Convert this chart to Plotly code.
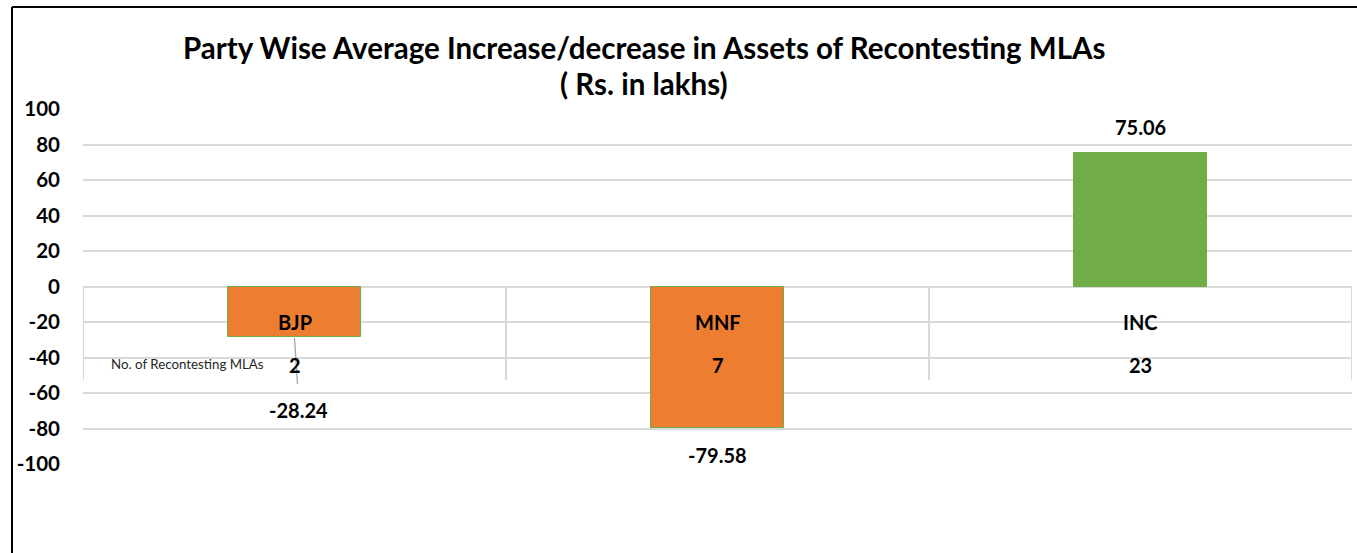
import plotly.graph_objects as go

parties = ["BJP", "MNF", "INC"]
asset_change = [-28.24, -79.58, 75.06]
recontesting = [2, 7, 23]
bar_colors = ["#ED7D31", "#ED7D31", "#70AD47"]
y_ticks = [100, 80, 60, 40, 20, 0, -20, -40, -60, -80, -100]
title_lines = ["Party Wise Average Increase/decrease in Assets of Recontesting MLAs", "( Rs. in lakhs)"]
row_label = "No. of Recontesting MLAs"

FONT = "Lato"
W, H = 1357, 553
L, R, T, B = 83, 5, 109, 89
pw = W - L - R
ph = H - T - B

def px_to_paper_x(px):
    return (px - L) / pw

def px_to_paper_y(py):
    return (H - B - py) / ph

fig = go.Figure()
fig.add_trace(go.Bar(
    x=list(range(len(parties))), y=asset_change,
    width=0.315,
    marker=dict(color=bar_colors, line=dict(color="#70AD47", width=1)),
    hoverinfo="skip",
))

bold = dict(family=FONT, size=20, color="#000000", weight="bold")
annotations = []
# value labels
for i, v in enumerate(asset_change):
    if v >= 0:
        shift, dx = 26, 0
    elif i == 0:
        shift, dx = -73, 0.01
    else:
        shift, dx = -27, 0
    annotations.append(dict(x=i + dx, y=v, xref="x", yref="y", text=f"{v:.2f}", showarrow=False,
                            xanchor="center", yanchor="middle", yshift=shift, font=bold))

# data table
for i, (p, n) in enumerate(zip(parties, recontesting)):
    annotations.append(dict(x=i, y=px_to_paper_y(322), xref="x", yref="paper", text=p, showarrow=False,
                            xanchor="center", yanchor="middle", font=bold))
    annotations.append(dict(x=i, y=px_to_paper_y(365), xref="x", yref="paper", text=str(n), showarrow=False,
                            xanchor="center", yanchor="middle", font=bold))
annotations.append(dict(x=px_to_paper_x(109), y=px_to_paper_y(364), xref="paper", yref="paper",
                        text=row_label, showarrow=False, xanchor="left", yanchor="middle",
                        font=dict(family=FONT, size=13.3, color="#262626")))

# title
title_font = dict(family=FONT, size=29.5, color="#000000", weight="bold")
annotations.append(dict(x=px_to_paper_x(644), y=px_to_paper_y(47), xref="paper", yref="paper",
                        text=title_lines[0], showarrow=False, xanchor="center", yanchor="middle",
                        font=title_font))
annotations.append(dict(x=px_to_paper_x(644), y=px_to_paper_y(83), xref="paper", yref="paper",
                        text=title_lines[1], showarrow=False, xanchor="center", yanchor="middle",
                        font=title_font))

shapes = []
# table vertical lines
for xb in [-0.5, 0.5, 1.5, 2.5]:
    shapes.append(dict(type="line", xref="x", yref="paper", x0=xb, x1=xb,
                       y0=px_to_paper_y(287), y1=px_to_paper_y(380), line=dict(color="#D9D9D9", width=2)))
# leader line for BJP label
shapes.append(dict(type="line", xref="x", yref="paper", x0=0, x1=0.007,
                   y0=px_to_paper_y(338), y1=px_to_paper_y(384), line=dict(color="#A6A6A6", width=1.3)))
# outer border (top and left)
shapes.append(dict(type="line", xref="paper", yref="paper", x0=px_to_paper_x(12), x1=px_to_paper_x(1360),
                   y0=px_to_paper_y(7), y1=px_to_paper_y(7), line=dict(color="#000000", width=2)))
shapes.append(dict(type="line", xref="paper", yref="paper", x0=px_to_paper_x(12), x1=px_to_paper_x(12),
                   y0=px_to_paper_y(7), y1=px_to_paper_y(560), line=dict(color="#000000", width=2)))

fig.update_layout(
    width=W, height=H,
    margin=dict(l=L, r=R, t=T, b=B),
    paper_bgcolor="#FFFFFF", plot_bgcolor="#FFFFFF",
    showlegend=False,
    annotations=annotations,
    shapes=shapes,
    bargap=0,
    xaxis=dict(range=[-0.5, 2.5], showgrid=False, showticklabels=False, zeroline=False, showline=False,
               fixedrange=True),
    yaxis=dict(range=[-100, 100], tickvals=y_ticks, ticktext=[str(t) for t in y_ticks],
               showgrid=True, gridcolor="#D9D9D9", gridwidth=2, zeroline=True, zerolinecolor="#D9D9D9",
               zerolinewidth=2, showline=False, ticks="", ticklabelstandoff=22,
               tickfont=dict(family=FONT, size=20.5, color="#000000", weight="bold"), fixedrange=True),
)

fig.write_html("out.html", config={"displayModeBar": False},
               post_script="document.body.style.margin='0';document.body.style.overflow='hidden';")
